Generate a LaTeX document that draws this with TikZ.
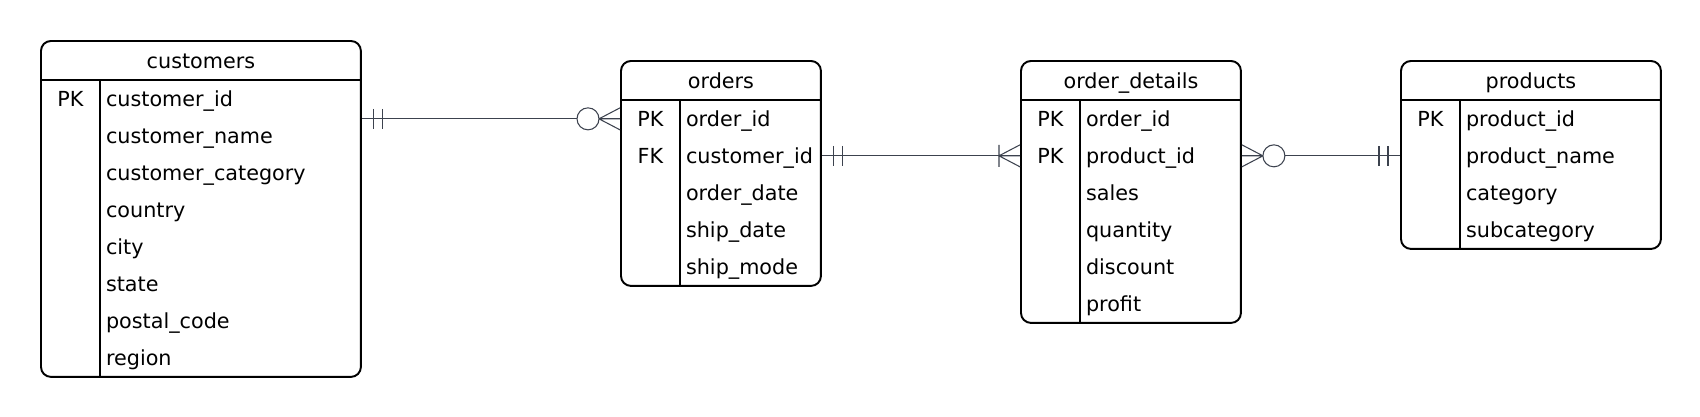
\documentclass[tikz,border=0pt]{standalone}
\usepackage{fontspec}
\setmainfont{DejaVu Sans}
\usetikzlibrary{positioning}

\definecolor{linkgray}{RGB}{60,66,78}

\tikzset{
  tbl/.style={draw, line width=1.1pt, rounded corners=0.2cm, anchor=north west, inner sep=0pt},
  hdr/.style={anchor=north, minimum height=0.8cm, inner sep=0pt, text height=0.96em, text depth=0.04em},
  key/.style={minimum width=1.2cm, minimum height=0.74cm, inner sep=0pt, text height=0.95em, text depth=0.05em},
  fld/.style={minimum height=0.74cm, inner xsep=0.1cm, inner ysep=0pt, text height=0.95em, text depth=0.05em},
  rule/.style={line width=1.1pt},
  link/.style={draw=linkgray, line width=0.6pt},
  one/.pic={\draw[link] (12,-10) -- (12,10) (21,-10) -- (21,10);},
  zeromany/.pic={\draw[link] (0,-11) -- (21,0) -- (0,11) (0,0) -- (21,0);
                 \draw[link, fill=white] (32,0) circle[radius=0.22cm];},
  onemany/.pic={\draw[link] (0,-11) -- (21,0) -- (0,11) (0,0) -- (21,0) (21,-11) -- (21,11);}
}

\begin{document}
\begin{tikzpicture}[x=0.02cm, y=-0.02cm, font=\fontsize{11.8}{14}\selectfont]
  \useasboundingbox (0,0) rectangle (1700,416);

  % customers
  \node[tbl, minimum width=6.4cm, minimum height=6.72cm] (cust) at (40,40) {};
  \node[hdr] (cust-h) at (cust.north) {customers};
  \coordinate[below=0.8cm of cust.north west] (cust-a);
  \draw[rule] (cust-a) -- (cust-a -| cust.east);
  \draw[rule] ([xshift=1.2cm]cust-a) -- ([xshift=1.2cm]cust.south west);
  \foreach \k/\f [count=\i] in {PK/customer\_id, /customer\_name, /customer\_category, /country,
                                /city, /state, /postal\_code, /region} {
      \node[key, below right=(\i-1)*0.74cm and 0cm of cust-a] (cust-k\i) {\k};
      \node[fld, right=0pt of cust-k\i] (cust-f\i) {\f};
  }

  % orders
  \node[tbl, minimum width=4cm, minimum height=4.5cm] (ord) at (620,60) {};
  \node[hdr] (ord-h) at (ord.north) {orders};
  \coordinate[below=0.8cm of ord.north west] (ord-a);
  \draw[rule] (ord-a) -- (ord-a -| ord.east);
  \draw[rule] ([xshift=1.2cm]ord-a) -- ([xshift=1.2cm]ord.south west);
  \foreach \k/\f [count=\i] in {PK/order\_id, FK/customer\_id, /order\_date, /ship\_date, /ship\_mode} {
      \node[key, below right=(\i-1)*0.74cm and 0cm of ord-a] (ord-k\i) {\k};
      \node[fld, right=0pt of ord-k\i] (ord-f\i) {\f};
  }

  % order_details
  \node[tbl, minimum width=4.4cm, minimum height=5.24cm] (det) at (1020,60) {};
  \node[hdr] (det-h) at (det.north) {order\_details};
  \coordinate[below=0.8cm of det.north west] (det-a);
  \draw[rule] (det-a) -- (det-a -| det.east);
  \draw[rule] ([xshift=1.2cm]det-a) -- ([xshift=1.2cm]det.south west);
  \foreach \k/\f [count=\i] in {PK/order\_id, PK/product\_id, /sales, /quantity, /discount, /profit} {
      \node[key, below right=(\i-1)*0.74cm and 0cm of det-a] (det-k\i) {\k};
      \node[fld, right=0pt of det-k\i] (det-f\i) {\f};
  }

  % products
  \node[tbl, minimum width=5.2cm, minimum height=3.76cm] (prod) at (1400,60) {};
  \node[hdr] (prod-h) at (prod.north) {products};
  \coordinate[below=0.8cm of prod.north west] (prod-a);
  \draw[rule] (prod-a) -- (prod-a -| prod.east);
  \draw[rule] ([xshift=1.2cm]prod-a) -- ([xshift=1.2cm]prod.south west);
  \foreach \k/\f [count=\i] in {PK/product\_id, /product\_name, /category, /subcategory} {
      \node[key, below right=(\i-1)*0.74cm and 0cm of prod-a] (prod-k\i) {\k};
      \node[fld, right=0pt of prod-k\i] (prod-f\i) {\f};
  }

  % relationships
  \draw[link] (cust.east |- ord-k1) -- (ord-k1 -| ord.west);
  \pic at (cust.east |- ord-k1) {one};
  \pic[rotate=180] at (ord-k1 -| ord.west) {zeromany};

  \draw[link] (ord.east |- ord-k2) -- (ord-k2 -| det.west);
  \pic at (ord.east |- ord-k2) {one};
  \pic[rotate=180] at (ord-k2 -| det.west) {onemany};

  \draw[link] (det.east |- det-k2) -- (det-k2 -| prod.west);
  \pic at (det.east |- det-k2) {zeromany};
  \pic[rotate=180] at (det-k2 -| prod.west) {one};
\end{tikzpicture}
\end{document}
